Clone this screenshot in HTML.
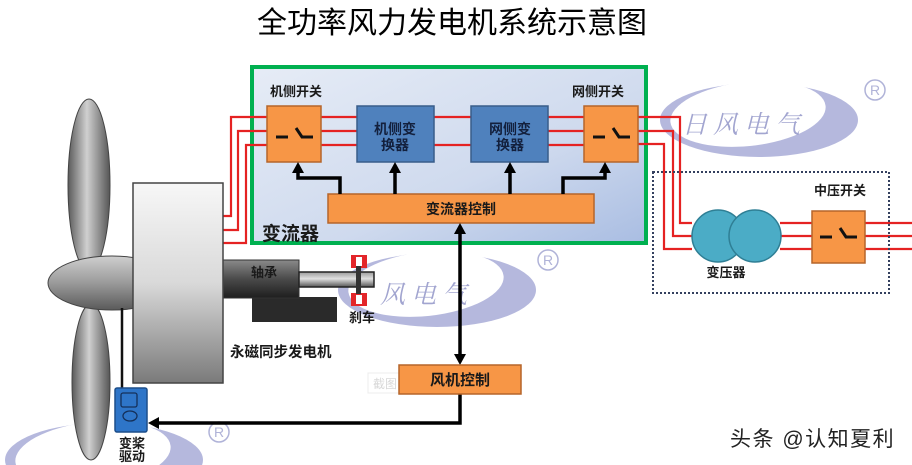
<!DOCTYPE html>
<html><head><meta charset="utf-8"><style>
html,body{margin:0;padding:0;background:#fff;width:912px;height:465px;overflow:hidden;}
svg{display:block;}
text{font-family:"Liberation Sans","Noto Sans CJK SC",sans-serif;}
.b{font-weight:bold;fill:#1a1a1a;}
</style></head><body>
<svg width="912" height="465" viewBox="0 0 912 465" xmlns="http://www.w3.org/2000/svg">
<defs>
<linearGradient id="gbox" x1="0" y1="0" x2="1" y2="1">
<stop offset="0" stop-color="#e6ecf6"/><stop offset="0.6" stop-color="#cfdaee"/><stop offset="1" stop-color="#a9bde2"/></linearGradient>
<linearGradient id="gen" x1="0" y1="0" x2="0" y2="1">
<stop offset="0" stop-color="#f7f7f7"/><stop offset="0.5" stop-color="#d9d9d9"/><stop offset="1" stop-color="#7a7a7a"/></linearGradient>
<linearGradient id="blade" x1="0" y1="0" x2="1" y2="0">
<stop offset="0" stop-color="#5a5a5a"/><stop offset="0.45" stop-color="#d0d0d0"/><stop offset="1" stop-color="#555"/></linearGradient>
<linearGradient id="hub" x1="0" y1="0" x2="0" y2="1">
<stop offset="0" stop-color="#cfcfcf"/><stop offset="0.5" stop-color="#9a9a9a"/><stop offset="1" stop-color="#5a5a5a"/></linearGradient>
<linearGradient id="brg" x1="0" y1="0" x2="0" y2="1">
<stop offset="0" stop-color="#8a8a8a"/><stop offset="0.5" stop-color="#4a4a4a"/><stop offset="1" stop-color="#1e1e1e"/></linearGradient>
<linearGradient id="shaft" x1="0" y1="0" x2="0" y2="1">
<stop offset="0" stop-color="#9a9a9a"/><stop offset="0.45" stop-color="#e0e0e0"/><stop offset="1" stop-color="#555"/></linearGradient>
<mask id="cres" maskUnits="userSpaceOnUse" x="600" y="60" width="300" height="120">
<rect x="600" y="60" width="300" height="120" fill="#000"/>
<ellipse cx="759" cy="120" rx="99" ry="37" fill="#fff"/>
<ellipse cx="748" cy="114" rx="78" ry="32" fill="#000" transform="rotate(-6 748 114)"/>
</mask>
<mask id="cres3" maskUnits="userSpaceOnUse" x="0" y="400" width="260" height="65">
<rect x="0" y="400" width="260" height="65" fill="#000"/>
<ellipse cx="104" cy="460" rx="99" ry="37" fill="#fff"/>
<ellipse cx="93" cy="454" rx="78" ry="32" fill="#000" transform="rotate(-6 93 454)"/>
</mask>
</defs>

<!-- watermarks -->
<g>
<rect x="600" y="60" width="300" height="120" fill="#aeb1da" mask="url(#cres)" opacity="0.9"/>
<text x="682" y="133" font-size="25" letter-spacing="6" fill="#a2a5d0" font-style="italic" style="font-family:'Noto Serif CJK SC',serif">日风电气</text>
<circle cx="875" cy="90" r="10" fill="none" stroke="#b0b3d8" stroke-width="1.5"/>
<text x="875" y="95" font-size="14" text-anchor="middle" fill="#b0b3d8">R</text>
</g>
<g transform="translate(-322 170)">
<rect x="600" y="60" width="300" height="120" fill="#aeb1da" mask="url(#cres)" opacity="0.9"/>
<text x="702" y="133" font-size="25" letter-spacing="6" fill="#a2a5d0" font-style="italic" style="font-family:'Noto Serif CJK SC',serif">风电气</text>
<circle cx="870" cy="90" r="10" fill="none" stroke="#b0b3d8" stroke-width="1.5"/>
<text x="870" y="95" font-size="14" text-anchor="middle" fill="#b0b3d8">R</text>
</g>
<rect x="0" y="400" width="260" height="65" fill="#aeb1da" mask="url(#cres3)" opacity="0.9"/>
<circle cx="219" cy="432" r="10" fill="none" stroke="#b0b3d8" stroke-width="1.5"/>
<text x="219" y="437" font-size="14" text-anchor="middle" fill="#b0b3d8">R</text>

<!-- title -->
<text x="452" y="33" font-size="30" text-anchor="middle" fill="#000">全功率风力发电机系统示意图</text>

<!-- converter box -->
<rect x="252" y="67" width="394" height="176" fill="url(#gbox)" stroke="#00b050" stroke-width="4"/>
<text class="b" x="270" y="96" font-size="13">机侧开关</text>
<text class="b" x="572" y="96" font-size="13">网侧开关</text>
<text class="b" x="262" y="240" font-size="19" fill="#222">变流器</text>

<!-- red lines -->
<g fill="none" stroke="#e52222" stroke-width="2.2">
<path d="M223 216H231V117H267"/>
<path d="M223 230H238V131H267"/>
<path d="M223 243H246V145H267"/>
<path d="M321 117H357M321 131H357M321 145H357"/>
<path d="M434 117H471M434 145H471"/>
<path d="M548 117H584M548 131H584M548 145H584"/>
<path d="M638 117H680V223H692"/>
<path d="M638 131H673V236H692"/>
<path d="M638 144H664V249H692"/>
<path d="M780 223H812M780 236H812M780 249H812"/>
<path d="M865 223H912M865 236H912M865 249H912"/>
</g>

<!-- switches -->
<g stroke="#b5652a" stroke-width="1.5" fill="#f79646">
<rect x="267" y="106" width="54" height="56"/>
<rect x="584" y="106" width="54" height="56"/>
<rect x="812" y="211" width="53" height="52"/>
</g>
<g stroke="#111" stroke-width="3" fill="none">
<path d="M276 137H288M296 128L302 137H313"/>
<path d="M593 137H605M613 128L619 137H630"/>
<path d="M820 237H832M840 228L846 237H857"/>
</g>

<!-- converters -->
<g stroke="#385d8a" stroke-width="1.5" fill="#4f81bd">
<rect x="357" y="106" width="77" height="56"/>
<rect x="471" y="106" width="77" height="56"/>
</g>
<g class="b" font-size="14" text-anchor="middle">
<text x="395" y="134" fill="#13203d">机侧变</text>
<text x="395" y="150" fill="#13203d">换器</text>
<text x="510" y="134" fill="#13203d">网侧变</text>
<text x="510" y="150" fill="#13203d">换器</text>
</g>

<!-- control bar -->
<rect x="328" y="194" width="266" height="29" fill="#f79646" stroke="#b5652a" stroke-width="1.5"/>
<text class="b" x="461" y="214" font-size="14" text-anchor="middle">变流器控制</text>

<!-- control arrows -->
<g stroke="#000" stroke-width="3.5" fill="none">
<path d="M340 194V178H298V172"/>
<path d="M395 194V172"/>
<path d="M510 194V172"/>
<path d="M563 194V178H605V172"/>
<path d="M460 233V356"/>
<path d="M460 394V423H157"/>
</g>
<g fill="#000">
<polygon points="298,162 292,173 304,173"/>
<polygon points="395,162 389,173 401,173"/>
<polygon points="510,162 504,173 516,173"/>
<polygon points="605,162 599,173 611,173"/>
<polygon points="460,223 454,234 466,234"/>
<polygon points="460,365 454,354 466,354"/>
<polygon points="148,423 159,417 159,429"/>
</g>

<!-- screenshot artifact -->
<rect x="368" y="373" width="60" height="20" fill="#fff" stroke="#ececec"/>
<text x="373" y="388" font-size="12" fill="#d8d8d8">截图 Alt</text>

<!-- wind control -->
<rect x="399" y="365" width="122" height="29" fill="#f79646" stroke="#b5652a" stroke-width="1.5"/>
<text class="b" x="460" y="385" font-size="15" text-anchor="middle">风机控制</text>

<!-- grid side dotted box -->
<rect x="653" y="172" width="236" height="121" fill="none" stroke="#34405f" stroke-width="2" stroke-dasharray="2 2"/>
<text class="b" x="840" y="195" font-size="13" text-anchor="middle">中压开关</text>
<g fill="#4bacc6" stroke="#2f7f95" stroke-width="1.5">
<circle cx="718" cy="236" r="26"/>
<circle cx="755" cy="236" r="26"/>
</g>
<text class="b" x="726" y="277" font-size="13" text-anchor="middle">变压器</text>

<!-- turbine -->
<ellipse cx="89" cy="185" rx="21" ry="86" fill="url(#blade)" stroke="#444" stroke-width="1"/>
<ellipse cx="91" cy="382" rx="19" ry="78" fill="url(#blade)" stroke="#444" stroke-width="1"/>
<ellipse cx="112" cy="283" rx="64" ry="27" fill="url(#hub)" stroke="#444" stroke-width="1"/>
<line x1="122" y1="308" x2="122" y2="389" stroke="#111" stroke-width="2.5"/>

<!-- bearing & shaft -->
<rect x="252" y="297" width="85" height="25" fill="#2a2a2a"/>
<rect x="223" y="260" width="76" height="38" fill="url(#brg)" stroke="#333" stroke-width="1"/>
<text class="b" x="264" y="277" font-size="13" text-anchor="middle">轴承</text>
<rect x="299" y="272" width="75" height="15" fill="url(#shaft)" stroke="#222" stroke-width="1.5"/>
<rect x="351" y="255" width="16" height="13" fill="#e3262a"/>
<rect x="356" y="257" width="6" height="9" fill="#fff"/>
<rect x="351" y="293" width="16" height="13" fill="#e3262a"/>
<rect x="356" y="295" width="6" height="9" fill="#fff"/>
<rect x="356" y="266" width="5" height="28" fill="#333"/>
<text class="b" x="362" y="322" font-size="13" text-anchor="middle">刹车</text>

<!-- generator -->
<rect x="133" y="183" width="90" height="200" fill="url(#gen)" stroke="#444" stroke-width="1.5"/>
<text class="b" x="230" y="357" font-size="14.5">永磁同步发电机</text>

<!-- pitch drive -->
<rect x="115" y="388" width="32" height="44" rx="2" fill="#2e75c8" stroke="#1d4e8a" stroke-width="1.5"/>
<rect x="121" y="393" width="16" height="14" rx="2" fill="none" stroke="#14305a" stroke-width="1.3"/>
<ellipse cx="130" cy="416" rx="7" ry="5" fill="none" stroke="#14305a" stroke-width="1.3"/>
<text class="b" x="132" y="448" font-size="13" text-anchor="middle">变桨</text>
<text class="b" x="132" y="461" font-size="13" text-anchor="middle">驱动</text>

<!-- footer watermark -->
<text x="730" y="446" font-size="21" letter-spacing="1.5" fill="#222" stroke="#fff" stroke-width="0.6" paint-order="stroke">头条 @认知夏利</text>
</svg>
</body></html>
